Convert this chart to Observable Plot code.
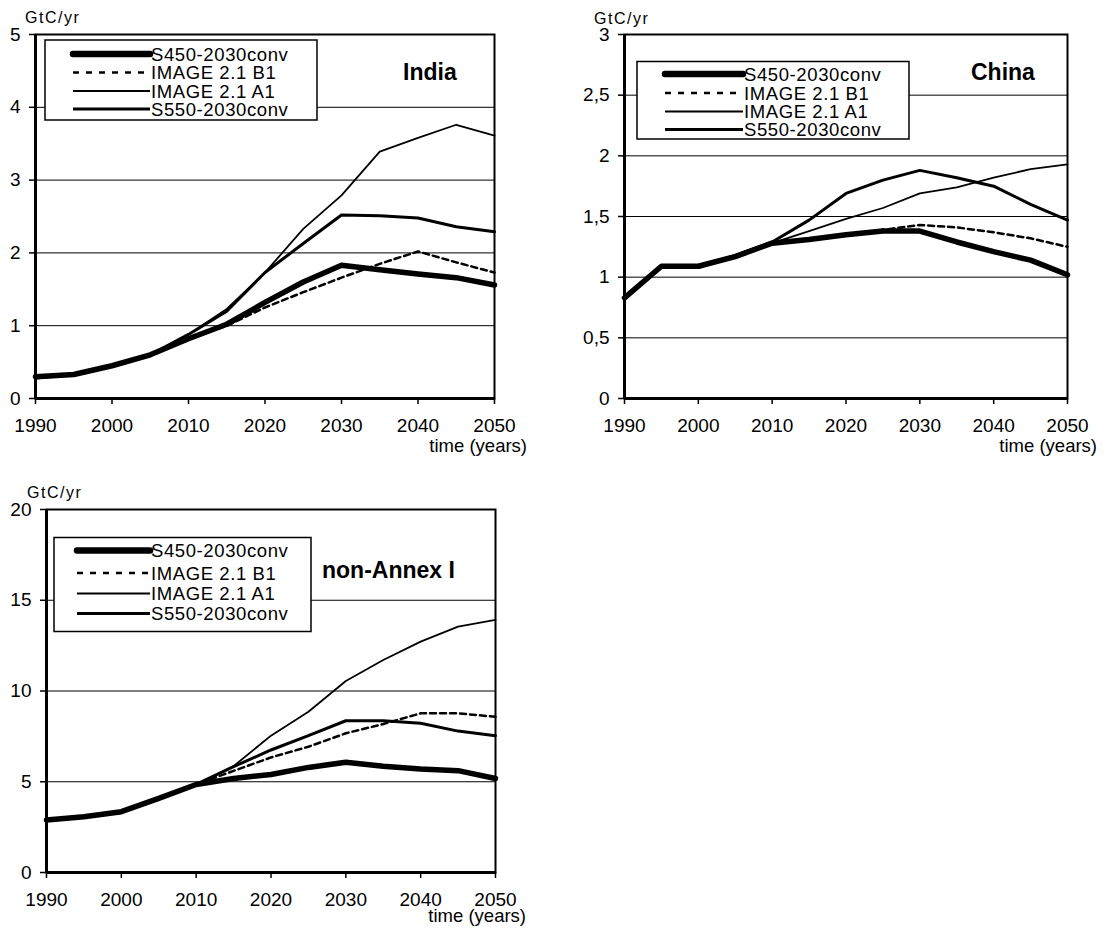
<!DOCTYPE html>
<html>
<head>
<meta charset="utf-8">
<script src="https://cdn.jsdelivr.net/npm/d3@7"></script>
<script src="https://cdn.jsdelivr.net/npm/@observablehq/plot@0.6"></script>
<style>
  html, body { margin: 0; padding: 0; background: #fff; }
  #root { position: relative; width: 1107px; height: 929px; overflow: hidden; background: #fff; }
  #root svg { position: absolute; }
</style>
</head>
<body>
<div id="root"></div>
<script>
// ---------- data ----------
const years = [1990, 1995, 2000, 2005, 2010, 2015, 2020, 2025, 2030, 2035, 2040, 2045, 2050];
const seriesNames = ["S450-2030conv", "IMAGE 2.1 B1", "IMAGE 2.1 A1", "S550-2030conv"];
const xTicks = [1990, 2000, 2010, 2020, 2030, 2040, 2050];

// India (GtC/yr)
const indiaS450 = [0.30, 0.33, 0.45, 0.60, 0.82, 1.02, 1.32, 1.60, 1.83, 1.77, 1.71, 1.66, 1.56];
const indiaB1   = [0.29, 0.33, 0.45, 0.60, 0.82, 1.00, 1.25, 1.46, 1.66, 1.85, 2.02, 1.87, 1.73];
const indiaA1   = [0.28, 0.33, 0.45, 0.60, 0.88, 1.23, 1.73, 2.33, 2.79, 3.39, 3.58, 3.76, 3.61];
const indiaS550 = [0.28, 0.33, 0.45, 0.60, 0.88, 1.20, 1.73, 2.13, 2.52, 2.51, 2.48, 2.36, 2.29];
const indiaTicks = [0, 1, 2, 3, 4, 5];

// China (GtC/yr)
const chinaS450 = [0.83, 1.09, 1.09, 1.17, 1.28, 1.31, 1.35, 1.38, 1.38, 1.29, 1.21, 1.14, 1.02];
const chinaB1   = [0.83, 1.09, 1.09, 1.17, 1.28, 1.31, 1.35, 1.39, 1.43, 1.41, 1.37, 1.32, 1.25];
const chinaA1   = [0.82, 1.09, 1.09, 1.18, 1.28, 1.38, 1.48, 1.57, 1.69, 1.74, 1.82, 1.89, 1.93];
const chinaS550 = [0.82, 1.09, 1.08, 1.18, 1.29, 1.47, 1.69, 1.80, 1.88, 1.82, 1.75, 1.60, 1.47];
const chinaTicks = [0, 0.5, 1, 1.5, 2, 2.5, 3];

// non-Annex I (GtC/yr)
const naS450 = [2.89, 3.07, 3.35, 4.08, 4.85, 5.18, 5.40, 5.79, 6.07, 5.86, 5.70, 5.61, 5.18];
const naB1   = [2.89, 3.07, 3.35, 4.08, 4.85, 5.60, 6.34, 6.93, 7.67, 8.18, 8.77, 8.77, 8.58];
const naA1   = [2.89, 3.07, 3.35, 4.08, 4.85, 5.86, 7.54, 8.86, 10.55, 11.71, 12.72, 13.55, 13.92];
const naS550 = [2.89, 3.07, 3.35, 4.08, 4.85, 5.83, 6.75, 7.54, 8.36, 8.36, 8.22, 7.79, 7.54];
const naTicks = [0, 5, 10, 15, 20];

// ---------- styles per series ----------
const lineStyles = [
  {strokeWidth: 5.5},
  {strokeWidth: 2.5, strokeDasharray: "6,4"},
  {strokeWidth: 1.8},
  {strokeWidth: 3}
];
const legendStyles = [
  {w: 6.5, dash: null, cap: "round"},
  {w: 2.5, dash: "6,7", cap: "butt"},
  {w: 2, dash: null, cap: "butt"},
  {w: 3, dash: null, cap: "butt"}
];

const FONT = "'Liberation Sans', Arial, Helvetica, sans-serif";
const root = document.getElementById("root");

function toRows(arr) { return years.map((year, i) => ({year, value: arr[i]})); }

function panel(cfg) {
  const seriesArrays = cfg.series;
  const top = cfg.ticks[cfg.ticks.length - 1];
  const grid = cfg.ticks.filter(t => t !== 0 && t !== top);
  const lines = seriesArrays.map((arr, i) =>
    Plot.line(toRows(arr), {x: "year", y: "value", stroke: "#000", strokeLinejoin: "round", ...lineStyles[i]}));
  const svg = Plot.plot({
    width: cfg.width, height: cfg.height,
    marginLeft: cfg.mL, marginRight: cfg.mR, marginTop: cfg.mT, marginBottom: cfg.mB,
    style: {fontFamily: FONT, fontSize: "19px", color: "#000", background: "transparent", overflow: "visible"},
    x: {domain: [1990, 2050], label: null},
    y: {domain: [0, top], label: null},
    marks: [
      Plot.ruleY(grid, {stroke: "#000", strokeWidth: 1}),
      Plot.frame({stroke: "#000", strokeWidth: 2}),
      Plot.axisX({ticks: xTicks, tickSize: 6, tickPadding: 14, tickFormat: d => String(d), strokeWidth: 1.5, label: null, fontSize: 19}),
      Plot.axisY({ticks: cfg.ticks, tickSize: 6, tickPadding: 9, tickFormat: cfg.fmt, strokeWidth: 1.5, label: null, fontSize: 19}),
      Plot.ruleX([1990], {stroke: "#000", strokeWidth: 3}),
      Plot.ruleY([0], {stroke: "#000", strokeWidth: 3}),
      ...lines
    ]
  });
  svg.style.left = cfg.left + "px";
  svg.style.top = cfg.topPx + "px";
  root.appendChild(svg);
}

const commaFmt = d => String(d).replace(".", ",");

panel({left: 0, topPx: 0, width: 540, height: 460, mL: 35, mR: 46, mT: 34, mB: 62,
  ticks: indiaTicks, fmt: d => String(d), series: [indiaS450, indiaB1, indiaA1, indiaS550]});
panel({left: 560, topPx: 0, width: 547, height: 460, mL: 64, mR: 40, mT: 34, mB: 62,
  ticks: chinaTicks, fmt: commaFmt, series: [chinaS450, chinaB1, chinaA1, chinaS550]});
panel({left: 0, topPx: 465, width: 540, height: 464, mL: 46, mR: 45, mT: 44, mB: 57,
  ticks: naTicks, fmt: d => String(d), series: [naS450, naB1, naA1, naS550]});

// ---------- overlay: legends & labels ----------
const overlay = d3.select(root).append("svg")
  .attr("width", 1107).attr("height", 929)
  .style("left", "0px").style("top", "0px")
  .style("font-family", FONT);

function legend(b) {
  const g = overlay.append("g");
  g.append("rect").attr("x", b.x).attr("y", b.y).attr("width", b.w).attr("height", b.h)
    .attr("fill", "#fff").attr("stroke", "#000").attr("stroke-width", 1.5);
  seriesNames.forEach((name, i) => {
    const s = legendStyles[i];
    const cy = b.y + b.rows[i];
    g.append("line").attr("x1", b.x + b.s0).attr("x2", b.x + b.s1).attr("y1", cy).attr("y2", cy)
      .attr("stroke", "#000").attr("stroke-width", s.w).attr("stroke-linecap", s.cap)
      .attr("stroke-dasharray", s.dash);
    g.append("text").attr("x", b.x + b.s1 + 1).attr("y", cy + 6.6)
      .attr("font-size", 18.5).attr("letter-spacing", 0.6).text(name);
  });
}

legend({x: 45, y: 40, w: 272, h: 80, s0: 28, s1: 105, rows: [14, 32.5, 51, 69]});
legend({x: 637, y: 61.5, w: 272, h: 77.5, s0: 28, s1: 106, rows: [12.5, 31.5, 50, 68]});
legend({x: 54, y: 537.5, w: 257, h: 94, s0: 23, s1: 96, rows: [13, 35.5, 56, 76]});

function label(x, y, txt, opts = {}) {
  overlay.append("text").attr("x", x).attr("y", y)
    .attr("font-size", opts.size || 19)
    .attr("font-weight", opts.bold ? "bold" : null)
    .attr("text-anchor", opts.anchor || "start")
    .attr("letter-spacing", opts.ls || null)
    .text(txt);
}

// unit labels
label(25, 23, "GtC/yr", {size: 16, ls: 1.5});
label(594, 24, "GtC/yr", {size: 16, ls: 1.5});
label(27, 498, "GtC/yr", {size: 16, ls: 1.5});
// axis titles
label(527, 452, "time (years)", {anchor: "end", size: 18.5});
label(1097, 452, "time (years)", {anchor: "end", size: 18.5});
label(526, 922, "time (years)", {anchor: "end", size: 18.5});
// region titles
label(403, 80, "India", {size: 23, bold: true});
label(971, 80, "China", {size: 23, bold: true});
label(322, 578, "non-Annex I", {size: 23, bold: true});
</script>
</body>
</html>
